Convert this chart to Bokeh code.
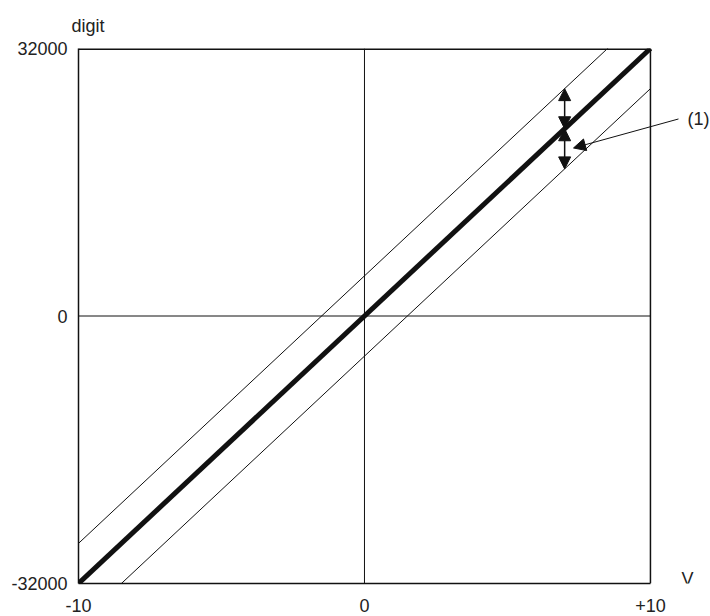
from bokeh.plotting import figure
from bokeh.models import Range1d, FixedTicker, Label, Arrow, NormalHead, Span
from bokeh.embed import file_html
from bokeh.resources import INLINE

# data
volts = [-10, 10]
digits = [-32000, 32000]
offset = 4800  # accuracy band (digit)
upper = [d + offset for d in digits]
lower = [d - offset for d in digits]
zero_line_y = [0, 0]
top_line_y = [32000, 32000]
x_ticks = [-10, 0, 10]
x_tick_labels = {-10: "-10", 0: "0", 10: "+10"}
y_ticks = [-32000, 0, 32000]
y_tick_labels = {-32000: "-32000", 0: "0", 32000: "32000"}
arrow_x = 7.0
leader_start = (10.98, 23570)
leader_end = (7.31, 20100)
v_label_pos = (11.3, -31500)

FONT = "Liberation Sans"
FS = "18px"
INK = "#111111"
TXT = "#222222"

p = figure(output_backend="svg", toolbar_location=None,
           x_range=Range1d(-10, 12.1), y_range=Range1d(-32000, 32000),
           frame_width=632, frame_height=535,
           min_border_left=78, min_border_right=0, min_border_top=48, min_border_bottom=33)
p.background_fill_color = "white"
p.border_fill_color = "white"
p.outline_line_color = None
p.grid.visible = False

p.title.text = "digit"
p.title.align = "left"
p.title.offset = -7
p.title.standoff = 25
p.title.text_font = FONT
p.title.text_font_size = FS
p.title.text_font_style = "normal"
p.title.text_color = TXT

for ax in (p.xaxis[0], p.yaxis[0]):
    ax.major_tick_out = 0
    ax.major_tick_in = 0
    ax.minor_tick_out = 0
    ax.minor_tick_in = 0
    ax.axis_line_color = INK
    ax.axis_line_width = 1.5
    ax.major_label_text_font = FONT
    ax.major_label_text_font_size = FS
    ax.major_label_text_color = TXT

p.xaxis.ticker = FixedTicker(ticks=x_ticks)
p.xaxis.major_label_overrides = x_tick_labels
p.xaxis.major_label_standoff = 15
p.xaxis.bounds = (-10, 10)
p.yaxis.ticker = FixedTicker(ticks=y_ticks)
p.yaxis.major_label_overrides = y_tick_labels
p.yaxis.major_label_standoff = 11

# frame box, zero lines
p.line(volts, top_line_y, line_color=INK, line_width=3)
p.add_layout(Span(location=volts[1], dimension="height", line_color=INK, line_width=1.5))
p.add_layout(Span(location=0, dimension="height", line_color=INK, line_width=1))
p.line(volts, zero_line_y, line_color=INK, line_width=1)

p.line(volts, upper, line_color=INK, line_width=1)
p.line(volts, lower, line_color=INK, line_width=1)
p.line(volts, digits, line_color=INK, line_width=5)

y_mid = arrow_x * 3200
for y0, y1 in ((y_mid + offset, y_mid), (y_mid, y_mid - offset)):
    p.add_layout(Arrow(x_start=arrow_x, y_start=y0, x_end=arrow_x, y_end=y1,
                       line_color=INK, line_width=1.5,
                       start=NormalHead(size=12, fill_color=INK, line_color=INK),
                       end=NormalHead(size=12, fill_color=INK, line_color=INK)))

p.add_layout(Arrow(x_start=leader_start[0], y_start=leader_start[1],
                   x_end=leader_end[0], y_end=leader_end[1],
                   line_color=INK, line_width=1,
                   end=NormalHead(size=12, fill_color=INK, line_color=INK)))

p.add_layout(Label(x=leader_start[0], y=leader_start[1], text="(1)", x_offset=9,
                   text_font=FONT, text_font_size=FS, text_color=TXT,
                   text_baseline="middle", text_align="left"))
p.add_layout(Label(x=v_label_pos[0], y=v_label_pos[1], text="V",
                   text_font=FONT, text_font_size=FS, text_color=TXT,
                   text_baseline="middle", text_align="center"))

open("out.html", "w").write(file_html(p, INLINE))
